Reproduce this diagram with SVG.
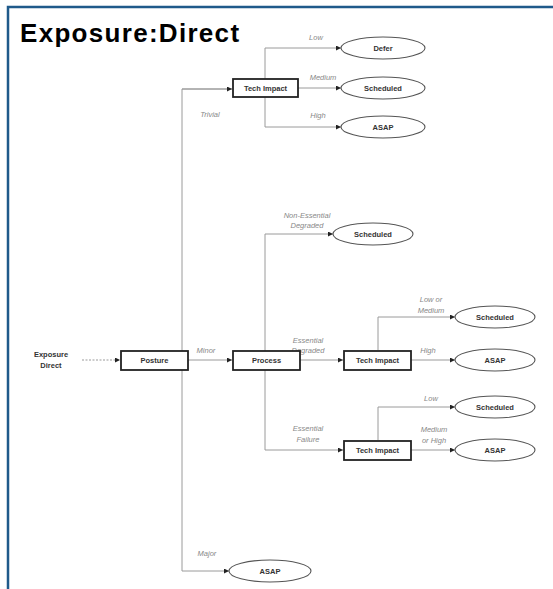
<svg xmlns="http://www.w3.org/2000/svg" width="553" height="589" viewBox="0 0 553 589">
  <style>
    .frame { stroke: #1f5a8a; stroke-width: 2.5; fill: none; }
    .title { font-family: "Liberation Sans", Arial, sans-serif; font-weight: bold; font-size: 26px; letter-spacing: 1.3px; fill: #000; }
    .wire { stroke: #9a9a9a; stroke-width: 1; fill: none; }
    .lead { stroke: #9a9a9a; stroke-width: 1; fill: none; stroke-dasharray: 2 1.5; }
    .box { fill: #fff; stroke: #222; stroke-width: 1.8; }
    .oval { fill: #fff; stroke: #555; stroke-width: 1.1; }
    .nt { font-family: "Liberation Sans", Arial, sans-serif; font-size: 7.5px; font-weight: bold; fill: #333; text-anchor: middle; }
    .et { font-family: "Liberation Sans", Arial, sans-serif; font-size: 7.5px; font-style: italic; fill: #888; text-anchor: middle; }
  </style>
  <defs>
    <marker id="tip" viewBox="0 0 6 6" refX="6" refY="3" markerWidth="5" markerHeight="5" orient="auto" markerUnits="userSpaceOnUse">
      <path d="M0,0 L6,3 L0,6 z" fill="#222"/>
    </marker>
  </defs>

  <rect width="553" height="589" fill="#fff"/>
  <path class="frame" d="M8,589 V7 H553"/>
  <text class="title" x="20" y="42">Exposure:Direct</text>

  <g id="connectors">
    <!-- root to posture -->
    <line class="lead" x1="82" y1="360" x2="120" y2="360" marker-end="url(#tip)"/>
    <!-- posture fan-out -->
    <path class="wire" d="M188,360 H232" marker-end="url(#tip)"/>
    <path class="wire" d="M232,89 H182 V571 H229" marker-end="url(#tip)"/>
    <line class="wire" x1="182" y1="89" x2="232" y2="89" marker-end="url(#tip)"/>
    <!-- trivial tech impact fan-out -->
    <path class="wire" d="M265,127 V48 H341" marker-end="url(#tip)"/>
    <path class="wire" d="M298,88 H341" marker-end="url(#tip)"/>
    <path class="wire" d="M265,127 H341" marker-end="url(#tip)"/>
    <!-- process fan-out -->
    <path class="wire" d="M265,450 V234 H333" marker-end="url(#tip)"/>
    <path class="wire" d="M300,360 H343" marker-end="url(#tip)"/>
    <path class="wire" d="M265,450 H343" marker-end="url(#tip)"/>
    <!-- essential degraded tech impact -->
    <path class="wire" d="M378,350 V317 H455" marker-end="url(#tip)"/>
    <path class="wire" d="M411,360 H455" marker-end="url(#tip)"/>
    <!-- essential failure tech impact -->
    <path class="wire" d="M378,440 V407 H455" marker-end="url(#tip)"/>
    <path class="wire" d="M411,450 H455" marker-end="url(#tip)"/>
  </g>

  <g id="edge-labels">
    <text class="et" x="210" y="117">Trivial</text>
    <text class="et" x="316" y="40">Low</text>
    <text class="et" x="323" y="80">Medium</text>
    <text class="et" x="318" y="118">High</text>
    <text class="et" x="206" y="353">Minor</text>
    <text class="et" x="207" y="556">Major</text>
    <text class="et" x="307" y="218">Non-Essential</text>
    <text class="et" x="307" y="228">Degraded</text>
    <text class="et" x="308" y="343">Essential</text>
    <text class="et" x="308" y="353">Degraded</text>
    <text class="et" x="308" y="431">Essential</text>
    <text class="et" x="308" y="442">Failure</text>
    <text class="et" x="431" y="302">Low or</text>
    <text class="et" x="431" y="313">Medium</text>
    <text class="et" x="428" y="353">High</text>
    <text class="et" x="431" y="401">Low</text>
    <text class="et" x="434" y="432">Medium</text>
    <text class="et" x="434" y="443">or High</text>
  </g>

  <g id="root">
    <text class="nt" x="51" y="357">Exposure</text>
    <text class="nt" x="51" y="368">Direct</text>
  </g>
  <g id="posture">
    <rect class="box" x="121" y="351" width="67" height="19"/>
    <text class="nt" x="154.5" y="363">Posture</text>
  </g>
  <g id="process">
    <rect class="box" x="233" y="351" width="67" height="19"/>
    <text class="nt" x="266.5" y="363">Process</text>
  </g>
  <g id="tech-impact-trivial">
    <rect class="box" x="233" y="79" width="65" height="18"/>
    <text class="nt" x="265.5" y="91">Tech Impact</text>
  </g>
  <g id="defer">
    <ellipse class="oval" cx="383" cy="48" rx="42" ry="11"/>
    <text class="nt" x="383" y="51">Defer</text>
  </g>
  <g id="scheduled-medium">
    <ellipse class="oval" cx="383" cy="88" rx="42" ry="11"/>
    <text class="nt" x="383" y="91">Scheduled</text>
  </g>
  <g id="asap-high">
    <ellipse class="oval" cx="383" cy="127" rx="42" ry="11"/>
    <text class="nt" x="383" y="130">ASAP</text>
  </g>
  <g id="scheduled-nonessential">
    <ellipse class="oval" cx="373" cy="234" rx="40" ry="11"/>
    <text class="nt" x="373" y="237">Scheduled</text>
  </g>
  <g id="tech-impact-degraded">
    <rect class="box" x="344" y="351" width="67" height="19"/>
    <text class="nt" x="377.5" y="363">Tech Impact</text>
  </g>
  <g id="scheduled-degraded">
    <ellipse class="oval" cx="495" cy="317" rx="40" ry="11"/>
    <text class="nt" x="495" y="320">Scheduled</text>
  </g>
  <g id="asap-degraded">
    <ellipse class="oval" cx="495" cy="360" rx="40" ry="11"/>
    <text class="nt" x="495" y="363">ASAP</text>
  </g>
  <g id="tech-impact-failure">
    <rect class="box" x="344" y="441" width="67" height="19"/>
    <text class="nt" x="377.5" y="453">Tech Impact</text>
  </g>
  <g id="scheduled-failure">
    <ellipse class="oval" cx="495" cy="407" rx="40" ry="11"/>
    <text class="nt" x="495" y="410">Scheduled</text>
  </g>
  <g id="asap-failure">
    <ellipse class="oval" cx="495" cy="450" rx="40" ry="11"/>
    <text class="nt" x="495" y="453">ASAP</text>
  </g>
  <g id="asap-major">
    <ellipse class="oval" cx="270" cy="571" rx="41" ry="11"/>
    <text class="nt" x="270" y="574">ASAP</text>
  </g>
</svg>
